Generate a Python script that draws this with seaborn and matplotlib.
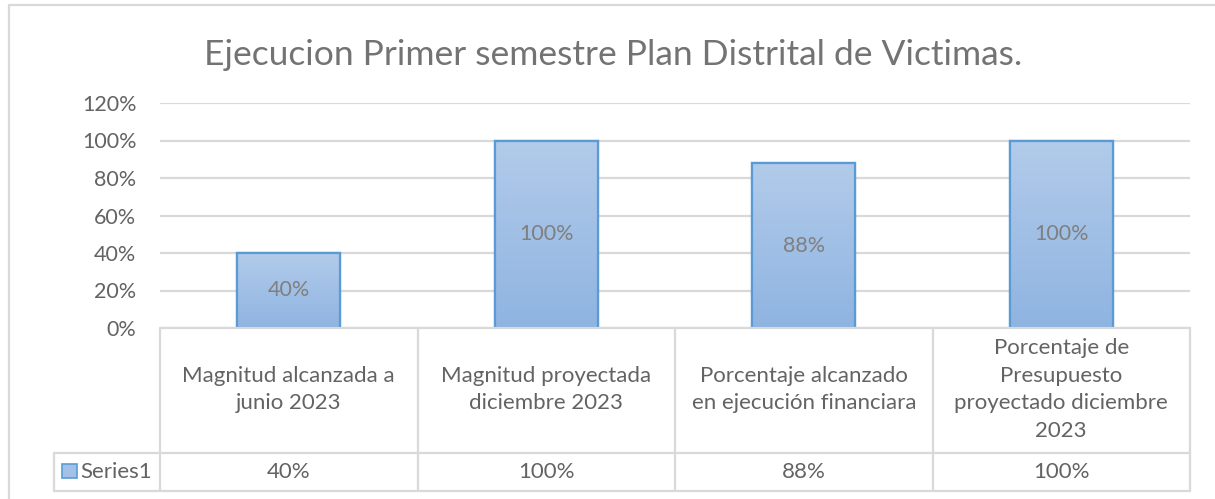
import numpy as np
import pandas as pd
import matplotlib
matplotlib.use("Agg")
import matplotlib.pyplot as plt
from matplotlib.lines import Line2D
from matplotlib.patches import Rectangle
from matplotlib.transforms import blended_transform_factory
from matplotlib.colors import LinearSegmentedColormap
import seaborn as sns

# ---- data ----
title = "Ejecucion Primer semestre Plan Distrital de Victimas."
categories = [
    "Magnitud alcanzada a\njunio 2023",
    "Magnitud proyectada\ndiciembre 2023",
    "Porcentaje alcanzado\nen ejecución financiara",
    "Porcentaje de\nPresupuesto\nproyectado diciembre\n2023",
]
values = [0.40, 1.00, 0.88, 1.00]
series_name = "Series1"
yticks = [0.0, 0.2, 0.4, 0.6, 0.8, 1.0, 1.2]

sns.set_theme(style="white")
plt.rcParams["font.family"] = ["Lato", "DejaVu Sans"]

W, H = 1215, 499
fig = plt.figure(figsize=(W / 100, H / 100), dpi=100)

def fx(px):
    return px / W

def fy(py):
    return 1 - py / H

txt_col = "#636363"

ax = fig.add_axes([fx(160), fy(328), fx(1190) - fx(160), fy(103) - fy(328)])
df = pd.DataFrame({"cat": categories, "val": values})
sns.barplot(data=df, x="cat", y="val", ax=ax, width=0.4,
            color="#a3c1e7", edgecolor="#5b9bd5", linewidth=1.6, zorder=3)

ax.set_yticks(yticks)
ax.set_yticklabels([f"{int(round(t*100))}%" for t in yticks], color=txt_col, fontsize=15.5)
ax.tick_params(axis="y", length=0, pad=17)
ax.set_xticks([])
ax.set_xlabel("")
ax.set_ylabel("")
for s in ax.spines.values():
    s.set_visible(False)
ax.grid(axis="y", color="#d9d9d9", linewidth=1.6, zorder=0)
ax.set_axisbelow(True)

# gradient fill for bars
grad = np.linspace(0, 1, 256).reshape(-1, 1)
cmap = LinearSegmentedColormap.from_list("g", ["#b2cbea", "#8fb4e1"])
for p in list(ax.patches):
    x0, y0 = p.get_x(), p.get_y()
    w, h = p.get_width(), p.get_height()
    im = ax.imshow(grad, cmap=cmap, aspect="auto", extent=(x0, x0 + w, y0, y0 + h),
                   origin="upper", zorder=3.5)
    im.set_clip_path(p)
    ax.add_patch(Rectangle((x0, y0), w, h, fill=False, edgecolor="#5b9bd5",
                           linewidth=1.6, zorder=4))
ax.set_xlim(-0.5, len(categories) - 0.5)
ax.set_ylim(0, 1.2)

# bar labels
for i, v in enumerate(values):
    ax.text(i, v / 2, f"{int(round(v*100))}%", ha="center", va="center",
            color="#7f7f7f", fontsize=15.5, zorder=5)

# title
fig.text(fx(613), fy(55), title, ha="center", va="center", color="#737373", fontsize=25.5)

# ---- data table ----
tr = blended_transform_factory(ax.transData, fig.transFigure)
lc = "#d9d9d9"
lw = 1.6
n = len(categories)
y_top, y_mid, y_bot = fy(328), fy(453), fy(491)
fig.add_artist(Line2D([-0.5, n - 0.5], [y_top, y_top], transform=tr, color=lc, lw=lw))
for k in range(n + 1):
    fig.add_artist(Line2D([k - 0.5, k - 0.5], [y_top, y_bot], transform=tr, color=lc, lw=lw))
for yy in (y_mid, y_bot):
    fig.add_artist(Line2D([fx(54), fx(1190)], [yy, yy], transform=fig.transFigure, color=lc, lw=lw))
fig.add_artist(Line2D([fx(54), fx(54)], [y_mid, y_bot], transform=fig.transFigure, color=lc, lw=lw))

for i, c in enumerate(categories):
    fig.text(i, fy(389.5), c, transform=tr, ha="center", va="center", color=txt_col,
             fontsize=16, linespacing=1.47, multialignment="center")
    fig.text(i, fy(472), f"{int(round(values[i]*100))}%", transform=tr, ha="center",
             va="center", color=txt_col, fontsize=16)

# legend key + series name
fig.add_artist(Rectangle((fx(62), fy(478)), fx(77) - fx(62), fy(464) - fy(478),
                         transform=fig.transFigure, facecolor="#a3c1e7",
                         edgecolor="#5b9bd5", linewidth=1.2))
fig.text(fx(80), fy(472), series_name, ha="left", va="center", color=txt_col, fontsize=16)

# outer chart border
fig.add_artist(Line2D([fx(8.5), fx(1215)], [fy(4.5), fy(4.5)], transform=fig.transFigure,
                      color=lc, lw=1.6))
fig.add_artist(Line2D([fx(8.5), fx(8.5)], [fy(4.5), fy(499)], transform=fig.transFigure,
                      color=lc, lw=1.6))

fig.savefig("out.png", dpi=100, facecolor="white")
